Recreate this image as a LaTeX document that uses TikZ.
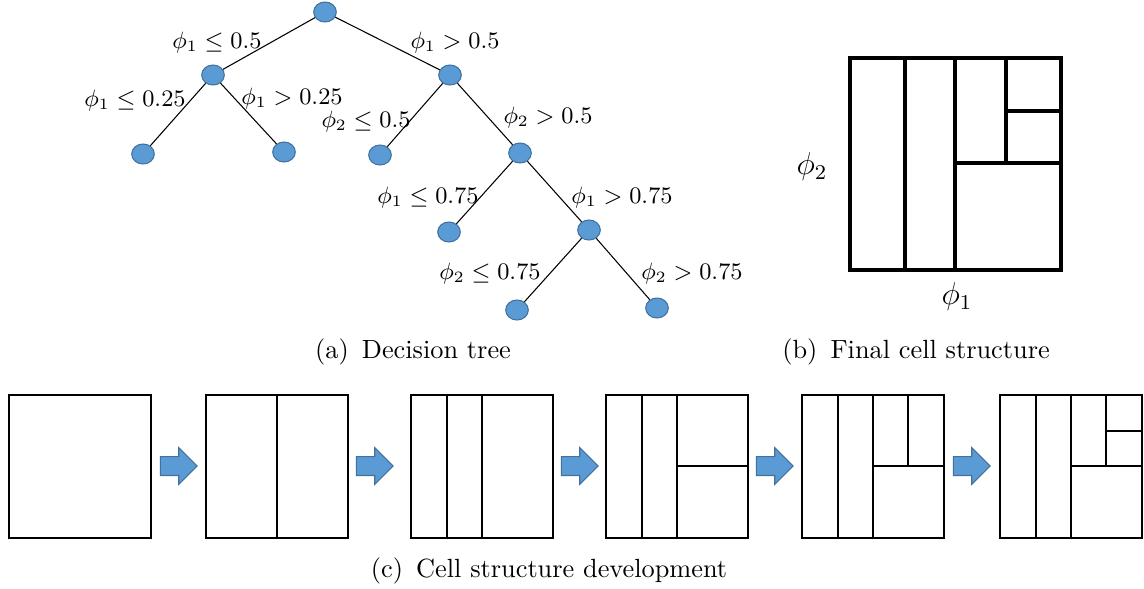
\documentclass[tikz,border=0pt]{standalone}
\usetikzlibrary{shapes.geometric,shapes.arrows}
\definecolor{blu}{HTML}{5B9BD5}
\definecolor{blubordo}{HTML}{41719C}

\begin{document}
\begin{tikzpicture}[x=0.38pt,y=-0.38pt,
  nodo/.style={draw=blubordo,fill=blu,ellipse,minimum width=8.6pt,minimum height=7.6pt,inner sep=0pt},
  freccia/.style={draw=blubordo,fill=blu,single arrow,minimum height=14pt,minimum width=13.7pt,
    single arrow head extend=3.4pt,inner sep=3.4pt},
  etichetta/.style={font=\small},
  cella/.style={line width=0.8pt},
  finale/.style={line width=1.2pt,line cap=rect}]
\useasboundingbox (0,0) rectangle (1144,588);

% Albero di decisione
\node[nodo] (r) at (325,12) {};
\node[nodo] (a) at (213,75) {};
\node[nodo] (b) at (450,75) {};
\node[nodo] (aa) at (143,154) {};
\node[nodo] (ab) at (284,152) {};
\node[nodo] (ba) at (380,155) {};
\node[nodo] (bb) at (520,153) {};
\node[nodo] (bba) at (449,232) {};
\node[nodo] (bbb) at (589,230) {};
\node[nodo] (bbba) at (517,310) {};
\node[nodo] (bbbb) at (657,308) {};
\draw (r) -- (a);  \draw (r) -- (b);
\draw (a) -- (aa); \draw (a) -- (ab);
\draw (b) -- (ba); \draw (b) -- (bb);
\draw (bb) -- (bba); \draw (bb) -- (bbb);
\draw (bbb) -- (bbba); \draw (bbb) -- (bbbb);

% Etichette dei rami
\node[etichetta] (e1) at (217,43) {$\phi_1 \le 0.5$};
\node[etichetta] (e2) at (455,43) {$\phi_1 > 0.5$};
\node[etichetta] (e3) at (135,101) {$\phi_1 \le 0.25$};
\node[etichetta] (e4) at (292,99) {$\phi_1 > 0.25$};
\node[etichetta] (e5) at (366,122) {$\phi_2 \le 0.5$};
\node[etichetta] (e6) at (548,118) {$\phi_2 > 0.5$};
\node[etichetta] (e7) at (428,198) {$\phi_1 \le 0.75$};
\node[etichetta] (e8) at (622,198) {$\phi_1 > 0.75$};
\node[etichetta] (e9) at (490,274) {$\phi_2 \le 0.75$};
\node[etichetta] (e10) at (692,274) {$\phi_2 > 0.75$};
\node (ca) at (413,352) {(a)\enspace Decision tree};

% Struttura finale delle celle
\draw[finale] (850,58) rectangle (1061,270);
\draw[finale] (905,58) -- (905,270);
\draw[finale] (955,58) -- (955,270);
\draw[finale] (955,163) -- (1061,163);
\draw[finale] (1006,58) -- (1006,163);
\draw[finale] (1006,111) -- (1061,111);
\node (p2) at (812,167) {\large$\phi_2$};
\node (p1) at (957,297) {\large$\phi_1$};
\node (cb) at (916,352) {(b)\enspace Final cell structure};

% Sviluppo della struttura, passo per passo
\foreach \x/\k in {9/0,206/1,411/2,606/3,802/4,1000/5} {
  \draw[cella] (\x,395) rectangle ++(142,143);
  \ifnum\k>0 \draw[cella] (\x+71,395) -- ++(0,143); \fi
  \ifnum\k>1 \draw[cella] (\x+36,395) -- ++(0,143); \fi
  \ifnum\k>2 \draw[cella] (\x+71,466) -- ++(71,0); \fi
  \ifnum\k>3 \draw[cella] (\x+106,395) -- ++(0,71); \fi
  \ifnum\k>4 \draw[cella] (\x+106,431) -- ++(36,0); \fi
}
\foreach \x [count=\i] in {174,370,575,770,967}
  \node[freccia] (f\i) at (\x,466) {};
\node (cc) at (549,571) {(c)\enspace Cell structure development};

\end{tikzpicture}
\end{document}
